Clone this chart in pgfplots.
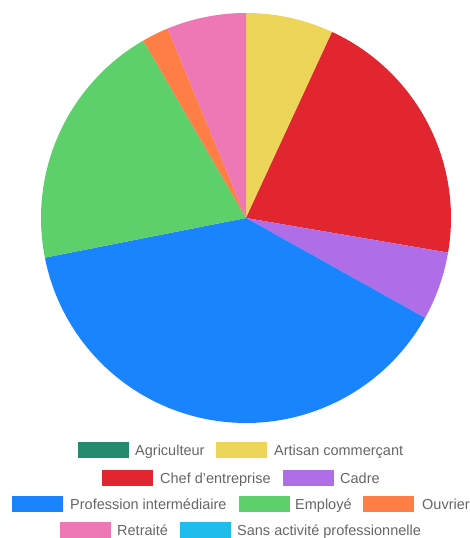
\documentclass[border=0pt]{standalone}
\usepackage{pgfplots}
\pgfplotsset{compat=1.18}
\usepackage{fontspec}
\setmainfont{Liberation Sans}
\definecolor{cAgr}{HTML}{268A6E}
\definecolor{cArt}{HTML}{EDD55A}
\definecolor{cChef}{HTML}{E2262F}
\definecolor{cCadre}{HTML}{B06DE8}
\definecolor{cProf}{HTML}{1A84FF}
\definecolor{cEmp}{HTML}{5DCF6B}
\definecolor{cOuv}{HTML}{FF7E45}
\definecolor{cRet}{HTML}{EE77B5}
\definecolor{cSans}{HTML}{1EBDEB}
\definecolor{legtext}{HTML}{666666}
% slice: start angle, end angle (degrees, clockwise from top), colour
\newcommand\slice[3]{%
  \addplot[fill=#3, draw=none, domain=#1:#2, samples=90, variable=\t]
    ({cos(\t)},{sin(\t)}) -- (axis cs:0,0) -- cycle;}
\newcommand\leg[5]{%
  \fill[#3] (#1bp,#2bp-8bp) rectangle (#1bp+51bp,#2bp+8bp);
  \node[anchor=base west, inner sep=0, text=legtext, font=\fontsize{14.5bp}{16bp}\selectfont] at (#4bp,#2bp-5.3bp) {#5};}
\begin{document}
\begin{tikzpicture}
\useasboundingbox (0,0) rectangle (470bp,538bp);
\begin{axis}[at={(246bp,320bp)}, anchor=center, width=410bp, height=410bp,
  scale only axis, hide axis, xmin=-1, xmax=1, ymin=-1, ymax=1, clip=false]
% percentages: Agriculteur 0, Artisan commercant 6.9, Chef d'entreprise 20.8,
% Cadre 5.4, Profession intermediaire 38.8, Employe 19.75, Ouvrier 2.1,
% Retraite 6.25, Sans activite professionnelle 0  (angle = 90 - 3.6 * cumulative %)
\slice{65.16}{90}{cArt}
\slice{-9.72}{65.16}{cChef}
\slice{-29.16}{-9.72}{cCadre}
\slice{-168.84}{-29.16}{cProf}
\slice{-239.94}{-168.84}{cEmp}
\slice{-247.5}{-239.94}{cOuv}
\slice{-270}{-247.5}{cRet}
\end{axis}
\leg{78}{88}{cAgr}{135}{Agriculteur}
\leg{216}{88}{cArt}{274}{Artisan commerçant}
\leg{102}{60}{cChef}{160}{Chef d'entreprise}
\leg{283}{60}{cCadre}{340}{Cadre}
\leg{12}{34}{cProf}{70}{Profession intermédiaire}
\leg{239}{34}{cEmp}{295}{Employé}
\leg{363}{34}{cOuv}{422}{Ouvrier}
\leg{60}{8}{cRet}{117}{Retraité}
\leg{180}{8}{cSans}{237}{Sans activité professionnelle}
\end{tikzpicture}
\end{document}
